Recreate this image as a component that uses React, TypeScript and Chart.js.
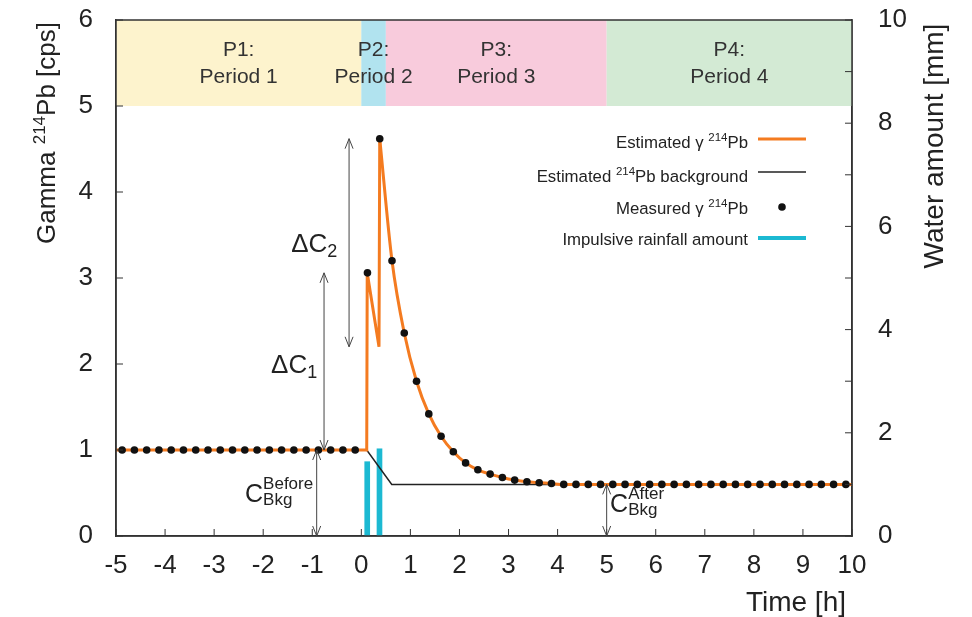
import React, { useEffect, useRef } from 'react';
import { Chart, registerables } from 'chart.js';

Chart.register(...registerables);

const FONT = "'Liberation Sans', Arial, Helvetica, sans-serif";

// ---------- data ----------
const measuredTime = [
  -4.875, -4.625, -4.375, -4.125, -3.875, -3.625, -3.375, -3.125, -2.875, -2.625,
  -2.375, -2.125, -1.875, -1.625, -1.375, -1.125, -0.875, -0.625, -0.375, -0.125,
  0.125, 0.375, 0.625, 0.875, 1.125, 1.375, 1.625, 1.875, 2.125, 2.375,
  2.625, 2.875, 3.125, 3.375, 3.625, 3.875, 4.125, 4.375, 4.625, 4.875,
  5.125, 5.375, 5.625, 5.875, 6.125, 6.375, 6.625, 6.875, 7.125, 7.375,
  7.625, 7.875, 8.125, 8.375, 8.625, 8.875, 9.125, 9.375, 9.625, 9.875,
];
const measuredGamma = [
  1.0, 1.0, 1.0, 1.0, 1.0, 1.0, 1.0, 1.0, 1.0, 1.0,
  1.0, 1.0, 1.0, 1.0, 1.0, 1.0, 1.0, 1.0, 1.0, 1.0,
  3.06, 4.62, 3.2, 2.36, 1.8, 1.42, 1.16, 0.98, 0.85, 0.77,
  0.72, 0.68, 0.65, 0.63, 0.62, 0.61, 0.6, 0.6, 0.6, 0.6,
  0.6, 0.6, 0.6, 0.6, 0.6, 0.6, 0.6, 0.6, 0.6, 0.6,
  0.6, 0.6, 0.6, 0.6, 0.6, 0.6, 0.6, 0.6, 0.6, 0.6,
];

// estimated gamma: pre-event + two rainfall spikes (straight segments)
const estSpikeTime = [-5, 0.11, 0.12, 0.36, 0.375];
const estSpikeGamma = [1.0, 1.0, 3.06, 2.2, 4.62];

// estimated gamma: decay part (smooth)
const estDecayTime = [
  0.375, 0.625, 0.875, 1.125, 1.375, 1.625, 1.875, 2.125, 2.375, 2.625,
  2.875, 3.125, 3.375, 3.625, 3.875, 4.125, 4.375, 4.625, 4.875, 5.5,
  6.5, 7.5, 8.5, 9.5, 10,
];
const estDecayGamma = [
  4.62, 3.2, 2.36, 1.8, 1.42, 1.16, 0.98, 0.85, 0.77, 0.72,
  0.68, 0.65, 0.63, 0.62, 0.61, 0.6, 0.6, 0.6, 0.6, 0.6,
  0.6, 0.6, 0.6, 0.6, 0.6,
];

// estimated background
const bkgTime = [-5, 0.11, 0.62, 10];
const bkgGamma = [1.0, 1.0, 0.6, 0.6];

// impulsive rainfall
const rainTime = [0.12, 0.37];
const rainAmount = [1.44, 1.69];

// periods
const periodStart = [-5, 0, 0.5, 5];
const periodEnd = [0, 0.5, 5, 10];
const periodTag = ['P1:', 'P2:', 'P3:', 'P4:'];
const periodName = ['Period 1', 'Period 2', 'Period 3', 'Period 4'];
const periodColor = ['#fdf3cd', '#b1e3ef', '#f8cbdc', '#d3ead4'];
const bandLow = 5;
const bandHigh = 6;

// annotation arrows (x in h, from/to in cps)
const arrowX = [-0.76, -0.25, -0.91, 5.0];
const arrowFrom = [1.0, 2.2, 0, 0];
const arrowTo = [3.06, 4.62, 1.0, 0.6];

const ORANGE = '#f47b20';
const CYAN = '#1cb9d2';
const INK = '#222';

type Seg = { t: string; size: number; dy?: number };

function segWidth(ctx: any, segs: Seg[]) {
  let w = 0;
  for (const s of segs) {
    ctx.font = `${s.size}px ${FONT}`;
    w += ctx.measureText(s.t).width;
  }
  return w;
}

function drawRich(ctx: any, segs: Seg[], x: number, y: number, align: string) {
  const w = segWidth(ctx, segs);
  let cx = align === 'left' ? x : align === 'right' ? x - w : x - w / 2;
  ctx.textAlign = 'left';
  ctx.textBaseline = 'alphabetic';
  for (const s of segs) {
    ctx.font = `${s.size}px ${FONT}`;
    ctx.fillText(s.t, cx, y + (s.dy || 0));
    cx += ctx.measureText(s.t).width;
  }
}

function vArrow(ctx: any, x: number, yTop: number, yBot: number) {
  ctx.beginPath();
  ctx.moveTo(x, yTop);
  ctx.lineTo(x, yBot);
  ctx.moveTo(x - 4, yTop + 10);
  ctx.lineTo(x, yTop);
  ctx.lineTo(x + 4, yTop + 10);
  ctx.moveTo(x - 4, yBot - 10);
  ctx.lineTo(x, yBot);
  ctx.lineTo(x + 4, yBot - 10);
  ctx.stroke();
}

function drawCBkg(ctx: any, x: number, y: number, sup: string) {
  ctx.fillStyle = INK;
  ctx.textAlign = 'left';
  ctx.textBaseline = 'alphabetic';
  ctx.font = `25px ${FONT}`;
  ctx.fillText('C', x, y);
  const w = ctx.measureText('C').width;
  ctx.font = `17px ${FONT}`;
  ctx.fillText(sup, x + w, y - 13);
  ctx.fillText('Bkg', x + w, y + 3);
}

const decorPlugin = {
  id: 'decor',
  beforeDatasetsDraw(chart: any) {
    const { ctx, scales } = chart;
    const xs = scales.x;
    const ys = scales.y;
    ctx.save();
    const yTop = ys.getPixelForValue(bandHigh);
    const yBot = ys.getPixelForValue(bandLow);
    for (let i = 0; i < periodStart.length; i++) {
      const x0 = xs.getPixelForValue(periodStart[i]);
      const x1 = xs.getPixelForValue(periodEnd[i]);
      ctx.fillStyle = periodColor[i];
      ctx.fillRect(x0, yTop, x1 - x0, yBot - yTop);
    }
    ctx.fillStyle = '#333';
    ctx.font = `21px ${FONT}`;
    ctx.textAlign = 'center';
    ctx.textBaseline = 'middle';
    const h = yBot - yTop;
    for (let i = 0; i < periodStart.length; i++) {
      const cx = xs.getPixelForValue((periodStart[i] + periodEnd[i]) / 2);
      ctx.fillText(periodTag[i], cx, yTop + h * 0.35);
      ctx.fillText(periodName[i], cx, yTop + h * 0.66);
    }
    ctx.restore();
  },
  afterDatasetsDraw(chart: any) {
    const { ctx, chartArea: a, scales } = chart;
    const xs = scales.x;
    const ys = scales.y;
    const y2 = scales.y1;
    ctx.save();

    // frame
    ctx.strokeStyle = '#333';
    ctx.lineWidth = 1.5;
    ctx.strokeRect(a.left, a.top, a.right - a.left, a.bottom - a.top);

    // inward ticks
    ctx.lineWidth = 1;
    ctx.beginPath();
    for (let v = 0; v <= 6; v++) {
      const p = ys.getPixelForValue(v);
      ctx.moveTo(a.left, p);
      ctx.lineTo(a.left + 7, p);
    }
    for (let v = -5; v <= 10; v++) {
      const p = xs.getPixelForValue(v);
      ctx.moveTo(p, a.bottom);
      ctx.lineTo(p, a.bottom - 7);
    }
    for (let v = 0; v <= 10; v++) {
      const p = y2.getPixelForValue(v);
      ctx.moveTo(a.right, p);
      ctx.lineTo(a.right - 7, p);
    }
    ctx.stroke();

    // arrows
    ctx.strokeStyle = '#444';
    ctx.lineWidth = 1;
    for (let i = 0; i < arrowX.length; i++) {
      vArrow(ctx, xs.getPixelForValue(arrowX[i]), ys.getPixelForValue(arrowTo[i]), ys.getPixelForValue(arrowFrom[i]));
    }

    // labels on arrows
    ctx.fillStyle = INK;
    drawRich(ctx, [{ t: '\u0394C', size: 26 }, { t: '1', size: 18, dy: 5 }], xs.getPixelForValue(-1.84), ys.getPixelForValue(1.9), 'left');
    drawRich(ctx, [{ t: '\u0394C', size: 26 }, { t: '2', size: 18, dy: 5 }], xs.getPixelForValue(-1.43), ys.getPixelForValue(3.3), 'left');
    drawCBkg(ctx, xs.getPixelForValue(-2.37), ys.getPixelForValue(0.4), 'Before');
    drawCBkg(ctx, xs.getPixelForValue(5.07), ys.getPixelForValue(0.28), 'After');

    // legend
    const tx = 748;
    const sx0 = 758;
    const sx1 = 806;
    const fs = 16.8;
    ctx.fillStyle = INK;
    drawRich(ctx, [{ t: 'Estimated \u03b3 ', size: fs }, { t: '214', size: 11.5, dy: -7 }, { t: 'Pb', size: fs }], tx, 148, 'right');
    drawRich(ctx, [{ t: 'Estimated ', size: fs }, { t: '214', size: 11.5, dy: -7 }, { t: 'Pb background', size: fs }], tx, 182, 'right');
    drawRich(ctx, [{ t: 'Measured \u03b3 ', size: fs }, { t: '214', size: 11.5, dy: -7 }, { t: 'Pb', size: fs }], tx, 214, 'right');
    drawRich(ctx, [{ t: 'Impulsive rainfall amount', size: fs }], tx, 245, 'right');

    ctx.lineCap = 'butt';
    ctx.strokeStyle = ORANGE;
    ctx.lineWidth = 3;
    ctx.beginPath(); ctx.moveTo(sx0, 139); ctx.lineTo(sx1, 139); ctx.stroke();
    ctx.strokeStyle = '#222';
    ctx.lineWidth = 1.5;
    ctx.beginPath(); ctx.moveTo(sx0, 172); ctx.lineTo(sx1, 172); ctx.stroke();
    ctx.fillStyle = '#111';
    ctx.beginPath(); ctx.arc((sx0 + sx1) / 2, 207, 3.8, 0, Math.PI * 2); ctx.fill();
    ctx.strokeStyle = CYAN;
    ctx.lineWidth = 4;
    ctx.beginPath(); ctx.moveTo(sx0, 238); ctx.lineTo(sx1, 238); ctx.stroke();

    ctx.restore();
  },
  afterDraw(chart: any) {
    const { ctx } = chart;
    ctx.save();
    ctx.fillStyle = INK;
    // left title
    ctx.save();
    ctx.translate(55, 133);
    ctx.rotate(-Math.PI / 2);
    drawRich(ctx, [{ t: 'Gamma ', size: 26 }, { t: '214', size: 17, dy: -10 }, { t: 'Pb [cps]', size: 26 }], 0, 0, 'center');
    ctx.restore();
    // right title
    ctx.save();
    ctx.translate(943, 146);
    ctx.rotate(-Math.PI / 2);
    drawRich(ctx, [{ t: 'Water amount [mm]', size: 28 }], 0, 0, 'center');
    ctx.restore();
    // x title
    drawRich(ctx, [{ t: 'Time [h]', size: 28 }], 846, 611, 'right');
    ctx.restore();
  },
};

export default function App() {
  const ref = useRef<HTMLCanvasElement>(null);
  useEffect(() => {
    const canvas = ref.current as HTMLCanvasElement;
    Chart.defaults.font.family = FONT;
    Chart.defaults.color = INK;
    const chart = new Chart(canvas, {
      type: 'line',
      data: {
        datasets: [
          {
            label: 'Measured',
            data: measuredTime.map((t, i) => ({ x: t, y: measuredGamma[i] })),
            showLine: false,
            pointRadius: 3.8,
            pointBackgroundColor: '#111',
            pointBorderColor: '#111',
            pointBorderWidth: 0,
            order: 0,
          } as any,
          {
            label: 'Estimated spike',
            data: estSpikeTime.map((t, i) => ({ x: t, y: estSpikeGamma[i] })),
            borderColor: ORANGE,
            borderWidth: 3,
            pointRadius: 0,
            tension: 0,
            order: 1,
          },
          {
            label: 'Estimated decay',
            data: estDecayTime.map((t, i) => ({ x: t, y: estDecayGamma[i] })),
            borderColor: ORANGE,
            borderWidth: 3,
            pointRadius: 0,
            cubicInterpolationMode: 'monotone',
            order: 1,
          },
          {
            label: 'Background',
            data: bkgTime.map((t, i) => ({ x: t, y: bkgGamma[i] })),
            borderColor: '#222',
            borderWidth: 1.5,
            pointRadius: 0,
            tension: 0,
            order: 2,
          },
          {
            type: 'bar',
            label: 'Rainfall',
            data: rainTime.map((t, i) => ({ x: t, y: rainAmount[i] })),
            backgroundColor: CYAN,
            borderWidth: 0,
            barThickness: 5,
            yAxisID: 'y1',
            xAxisID: 'x',
            order: 3,
          } as any,
        ],
      },
      options: {
        responsive: false,
        animation: false,
        events: [],
        layout: { padding: { top: 20, left: 0, right: 0, bottom: 0 } },
        plugins: { legend: { display: false }, tooltip: { enabled: false } },
        scales: {
          x: {
            type: 'linear',
            position: 'bottom',
            min: -5,
            max: 10,
            offset: false,
            ticks: { stepSize: 1, autoSkip: false, maxRotation: 0, font: { size: 26, family: FONT }, color: INK, padding: 14 },
            grid: { display: false, drawTicks: false, offset: false },
            border: { display: true, color: '#333', width: 1.5 },
            afterFit: (s: any) => { s.height = 81; s.paddingLeft = 0; s.paddingRight = 0; },
          },
          y: {
            type: 'linear',
            position: 'left',
            min: 0,
            max: 6,
            ticks: { stepSize: 1, font: { size: 26, family: FONT }, color: INK, padding: 23 },
            grid: { display: false, drawTicks: false },
            border: { display: true, color: '#333', width: 1.5 },
            afterFit: (s: any) => { s.width = 116; s.paddingTop = 0; s.paddingBottom = 0; },
          },
          y1: {
            type: 'linear',
            position: 'right',
            min: 0,
            max: 10,
            ticks: { stepSize: 2, font: { size: 26, family: FONT }, color: INK, padding: 26 },
            grid: { display: false, drawTicks: false },
            border: { display: true, color: '#333', width: 1.5 },
            afterFit: (s: any) => { s.width = 120; s.paddingTop = 0; s.paddingBottom = 0; },
          },
        },
      } as any,
      plugins: [decorPlugin],
    });
    return () => chart.destroy();
  }, []);
  return (
    <div style={{ position: 'absolute', left: 0, top: 0, width: 972, height: 617, background: '#fff' }}>
      <canvas ref={ref} width={972} height={617} style={{ display: 'block', width: 972, height: 617 }} />
    </div>
  );
}
